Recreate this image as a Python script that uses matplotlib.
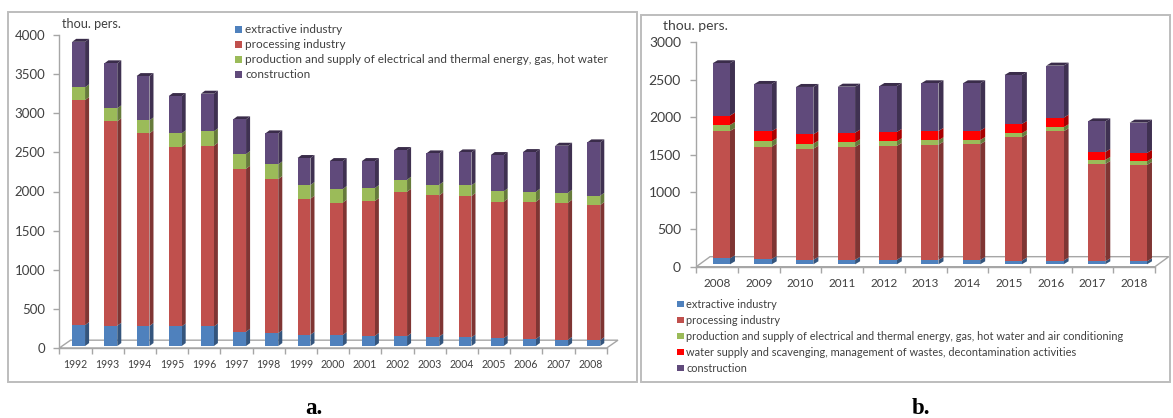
import matplotlib
matplotlib.use("Agg")
import matplotlib.pyplot as plt
from matplotlib.patches import Polygon, Rectangle

W, H = 1173, 418

years_a = list(range(1992, 2009))
extractive_a = [268, 260, 256, 250, 250, 183, 166, 145, 140, 130, 125, 120, 110, 100, 90, 80, 75]
processing_a = [2876, 2612, 2462, 2297, 2310, 2083, 1968, 1738, 1692, 1723, 1847, 1805, 1807, 1744, 1754, 1752, 1727]
energy_a = [162, 166, 166, 171, 184, 188, 188, 175, 174, 166, 153, 136, 136, 133, 128, 128, 119]
construction_a = [582, 575, 566, 477, 481, 443, 396, 345, 358, 345, 380, 401, 422, 464, 507, 600, 682]

years_b = list(range(2008, 2019))
extractive_b = [80, 71, 60, 60, 60, 58, 58, 50, 50, 40, 40]
processing_b = [1702, 1502, 1486, 1509, 1522, 1541, 1547, 1648, 1728, 1301, 1288]
energy_b = [81, 72, 67, 62, 63, 59, 57, 54, 54, 54, 49]
water_b = [125, 134, 125, 129, 124, 125, 125, 124, 128, 107, 112]
construction_b = [700, 632, 633, 615, 615, 637, 633, 655, 696, 409, 405]

labels_a = [
    "extractive industry",
    "processing industry",
    "production and supply of electrical and thermal energy, gas, hot water",
    "construction",
]
labels_b = [
    "extractive industry",
    "processing industry",
    "production and supply of electrical and thermal energy, gas, hot water and air conditioning",
    "water supply and scavenging, management of wastes, decontamination activities",
    "construction",
]

BLUE = "#4F81BD"
RED = "#C0504D"
GREEN = "#9BBB59"
WATER = "#FF0000"
PURPLE = "#604A7B"
AXIS = "#A6A6A6"
FRAME = "#BDBDBD"
TEXT = "#404040"

plt.rcParams["font.family"] = ["Lato", "DejaVu Sans"]


def shade(color, k):
    r, g, b = matplotlib.colors.to_rgb(color)
    return (r * k, g * k, b * k)


def px_axes(fig, left, right, top, bottom):
    return fig.add_axes([left / W, 1 - bottom / H, (right - left) / W, (bottom - top) / H])


def draw_stack(ax, years, series, colors, width, dx, dy, lift):
    # front face plus fake 3D side and top for each stacked segment
    bottoms = [lift] * len(years)
    for values, color in zip(series, colors):
        for i, v in enumerate(values):
            x0 = i + 0.6 - width / 2
            x1 = x0 + width
            y0 = bottoms[i]
            y1 = y0 + v
            ax.add_patch(Polygon([(x1, y0), (x1 + dx, y0 + dy), (x1 + dx, y1 + dy), (x1, y1)],
                                 fc=shade(color, 0.66), ec="none", zorder=3, clip_on=False))
            ax.add_patch(Rectangle((x0, y0), width, v, fc=color, ec="none", zorder=4, clip_on=False))
            bottoms[i] = y1
    top_color = shade(colors[-1], 0.6)
    for i, top in enumerate(bottoms):
        x0 = i + 0.6 - width / 2
        ax.add_patch(Polygon([(x0, top), (x0 + dx, top + dy), (x0 + width + dx, top + dy), (x0 + width, top)],
                             fc=top_color, ec="none", zorder=3, clip_on=False))


def style_axes(ax, years, ymax, step, floor_dx, floor_dy, ysize, xsize, ypad):
    n = len(years)
    ax.set_xlim(0, n)
    ax.set_ylim(0, ymax)
    ax.patch.set_alpha(0)
    for side in ["top", "right"]:
        ax.spines[side].set_visible(False)
    for side in ["left", "bottom"]:
        ax.spines[side].set_color(AXIS)
        ax.spines[side].set_linewidth(1.0)
    ax.set_xticks(range(n + 1))
    ax.set_xticklabels([])
    ax.set_xticks([i + 0.5 for i in range(n)], minor=True)
    ax.set_xticklabels(years, minor=True, fontsize=xsize, color=TEXT)
    ax.tick_params(axis="x", which="major", length=4, color=AXIS, width=1.0)
    ax.tick_params(axis="x", which="minor", length=0, pad=8)
    ax.set_yticks(range(0, ymax + 1, step))
    ax.tick_params(axis="y", length=4, color=AXIS, width=1.0, labelsize=ysize, labelcolor=TEXT, pad=ypad)
    # floor of the 3D plot
    ax.add_patch(Polygon([(0, 0), (floor_dx, floor_dy), (n + floor_dx, floor_dy), (n, 0)],
                         fc="none", ec=AXIS, lw=1.0, zorder=1, clip_on=False))


def add_legend(fig, labels, colors, x, y, row, size, fontsize):
    for i, (label, color) in enumerate(zip(labels, colors)):
        yy = y + i * row
        fig.add_artist(Rectangle((x / W, 1 - (yy + size / 2) / H), size / W, size / H,
                                 transform=fig.transFigure, fc=color, ec="none"))
        fig.text((x + size + 3) / W, 1 - yy / H, label, fontsize=fontsize, color=TEXT, va="center", ha="left")


def main():
    fig = plt.figure(figsize=(W / 100, H / 100), dpi=100)

    # panel frames sit behind the axes
    for left, right, top, bottom in [(8, 637, 12, 382), (641, 1170, 15, 382)]:
        fig.add_artist(Rectangle((left / W, 1 - bottom / H), (right - left) / W, (bottom - top) / H,
                                 transform=fig.transFigure, fc="white", ec=FRAME, lw=1.4, zorder=-1))

    ax_a = px_axes(fig, 59.3, 606.7, 35, 348)
    style_axes(ax_a, years_a, 4000, 500, 0.35, 100, 9.5, 7.6, 6)
    draw_stack(ax_a, years_a, [extractive_a, processing_a, energy_a, construction_a],
               [BLUE, RED, GREEN, PURPLE], 0.4, 0.125, 38, 25)

    ax_b = px_axes(fig, 696.3, 1155, 42.3, 266.7)
    style_axes(ax_b, years_b, 3000, 500, 0.33, 134, 10, 8.5, 7)
    draw_stack(ax_b, years_b, [extractive_b, processing_b, energy_b, water_b, construction_b],
               [BLUE, RED, GREEN, WATER, PURPLE], 0.415, 0.12, 40, 32)

    fig.text(62 / W, 1 - 24 / H, "thou. pers.", fontsize=9.1, color=TEXT, va="center")
    fig.text(663 / W, 1 - 26 / H, "thou. pers.", fontsize=10, color=TEXT, va="center")

    add_legend(fig, labels_a, [BLUE, RED, GREEN, PURPLE], 235, 29.5, 15, 7, 8.5)
    add_legend(fig, labels_b, [BLUE, RED, GREEN, WATER, PURPLE], 677, 304, 16, 6.5, 7.9)

    for x, s in [(314, "a."), (921, "b.")]:
        fig.text(x / W, 1 - 408 / H, s, fontsize=16.5, fontweight="bold", family="Liberation Serif",
                 color="black", ha="center", va="center")

    fig.savefig("out.png", dpi=100)


if __name__ == "__main__":
    main()
